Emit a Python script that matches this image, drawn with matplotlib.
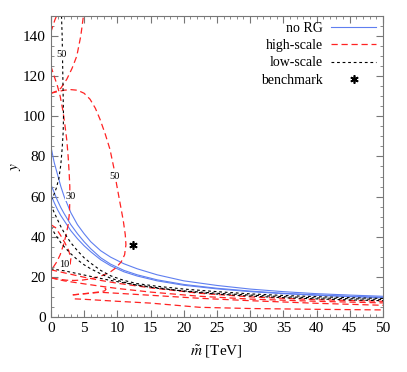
import numpy as np
import matplotlib
matplotlib.use('Agg')
import matplotlib.pyplot as plt
from matplotlib.ticker import MultipleLocator

plt.rcParams['font.family'] = ['Liberation Serif', 'DejaVu Serif']
plt.rcParams['mathtext.fontset'] = 'stix'

# no RG contours (blue, solid)
b1_x = [0, 0.5, 1, 1.5, 2, 3, 4, 5, 6, 7.5, 9, 11, 13, 16, 20, 25, 30, 35, 40, 45, 50]
b1_y = [85, 77, 71, 65, 60, 52, 46, 41.5, 37.5, 33, 29.8, 26.5, 24, 21, 18, 15.7, 13.9, 12.6, 11.6, 10.9, 10.3]
b2_x = b1_x
b2_y = [66, 62, 58, 54.5, 51.5, 46, 41.5, 37.5, 34, 29.5, 26.3, 23.2, 21, 18.5, 16.2, 14.3, 12.9, 11.8, 11, 10.3, 9.8]
b3_x = b1_x
b3_y = [61, 57, 53.5, 50.5, 48, 43, 39, 35.5, 32.5, 28.5, 25.5, 22.5, 20.4, 18, 15.8, 14, 12.6, 11.6, 10.8, 10.1, 9.6]

# low-scale contours (black, short dashes)
k1_x = [1.6, 1.7, 1.75, 1.8, 1.85, 1.9, 1.85, 1.7, 1.5, 1.2, 0.8, 0.4, 0]
k1_y = [150, 140, 130, 120, 110, 100, 92, 84, 76, 69, 64, 60.5, 58]
k2_x = b1_x
k2_y = [56, 52, 48.5, 45, 42, 37, 33, 29.5, 26.8, 23.2, 20.5, 18.2, 16.6, 15.3, 13.9, 12.6, 11.5, 10.7, 10.1, 9.6, 9.2]
k3_x = b1_x
k3_y = [45, 42, 39.5, 37, 35, 31.5, 28.5, 26, 24, 21.5, 19.3, 17.3, 15.8, 14.3, 13, 11.8, 10.9, 10.1, 9.5, 9.1, 8.7]
k4_x = [0, 1, 2, 3, 4, 5, 6, 7.5, 9, 11, 13, 16, 20, 25, 30, 35, 40, 45, 50]
k4_y = [24, 23.5, 23, 22.3, 21.6, 20.9, 20.2, 19.2, 18.2, 17, 15.9, 14.6, 12.8, 11.4, 10.4, 9.6, 9.0, 8.5, 8.1]

# high-scale contours (red, long dashes)
r1_x = [0, 1, 2, 3, 4, 5, 5.9, 6.7, 7.4, 8.2, 8.9, 9.5, 9.9, 10.4, 10.9, 11.2, 11.3, 11.1, 10.6,
        9.8, 8.9, 7.5, 6, 4.8, 3.5, 2.4, 1.2, 0]
r1_y = [111.5, 112.3, 113, 113.3, 113, 111.5, 108.5, 104, 98.5, 91, 83.5, 74, 66, 57, 48, 41, 36, 31, 27.5,
        24.5, 22.3, 20.3, 19, 18.4, 18.2, 18.3, 18.8, 19.5]
r2_x = [0, 0.3, 0.6, 0.85]
r2_y = [142, 145, 148, 150]
r3_x = [0, 0.8, 1.5, 2.4, 3.2, 3.9, 4.2, 4.5, 4.7, 4.9]
r3_y = [111.5, 112.5, 114, 118.5, 124, 130, 135, 140, 145, 150]
r4_x = [0, 0.5, 1, 1.4, 1.8, 2.1, 2.4, 2.6, 2.75, 2.85, 2.85, 2.8, 2.6, 2.3, 1.9, 1.4, 0.9, 0.4, 0]
r4_y = [125, 120, 115, 110, 103, 96, 88, 80, 72, 65, 58, 52, 46, 41, 36, 31, 27.5, 25, 24]
r5_x = [0, 0.7, 1.4, 2.1, 2.7, 3.0, 2.9, 2.6]
r5_y = [46, 44.5, 41, 37, 33, 29, 26, 23.5]
r6_x = [0, 2, 5, 7.5, 10, 15, 22.4, 30, 40, 50]
r6_y = [23.5, 22, 19.8, 18.2, 16.8, 14.5, 11.8, 10, 8.6, 7.8]
r7_x = [0, 2, 5, 7.5, 10, 15, 22.4, 30, 40, 50]
r7_y = [19.5, 18, 16.5, 15.3, 14.2, 12.4, 10.3, 8.9, 7.8, 7.0]
r8_x = [3.3, 5, 7.4, 8.1, 8.3, 8.1]
r8_y = [11, 11.6, 12.5, 13, 13.8, 14.6]
r9_x = [3.3, 5, 7.4, 10, 15, 22.4, 30, 40, 50]
r9_y = [11, 11.5, 12.3, 11.8, 10.8, 9.3, 8.1, 6.8, 5.8]
r10_x = [3.6, 5, 7.5, 10, 15, 22.4, 30, 40, 50]
r10_y = [9, 8.8, 8.3, 7.8, 6.9, 4.8, 4.2, 3.8, 3.5]

bench_x = [12.35]
bench_y = [36]

blue = '#5f7ff0'
red = '#ff2222'
red_dash = (0, (5, 3))
blk_dash = (0, (2.5, 2.5))

fig = plt.figure(figsize=(4.07, 3.72), dpi=100)
ax = fig.add_axes([0.125, 0.148, 0.816, 0.809])

for xs, ys in [(b1_x, b1_y), (b2_x, b2_y), (b3_x, b3_y)]:
    ax.plot(xs, ys, color=blue, lw=0.8)
for xs, ys in [(r1_x, r1_y), (r2_x, r2_y), (r3_x, r3_y), (r4_x, r4_y), (r5_x, r5_y),
               (r6_x, r6_y), (r7_x, r7_y), (r8_x, r8_y), (r9_x, r9_y), (r10_x, r10_y)]:
    ax.plot(xs, ys, color=red, lw=0.9, linestyle=red_dash)
for xs, ys in [(k1_x, k1_y), (k2_x, k2_y), (k3_x, k3_y), (k4_x, k4_y)]:
    ax.plot(xs, ys, color='black', lw=0.8, linestyle=blk_dash)

# contour labels
lbl = dict(fontsize=7.5, ha='center', va='center',
           bbox=dict(facecolor='white', edgecolor='none', pad=0.3))
ax.text(1.6, 131, '50', **lbl)
ax.text(9.6, 70, '50', **lbl)
ax.text(3.0, 60, '30', **lbl)
ax.text(2.0, 26, '10', **lbl)

# legend proxies
h1, = ax.plot([], [], color=blue, lw=0.8, label='no RG')
h2, = ax.plot([], [], color=red, lw=0.9, linestyle=red_dash, label='high-scale')
h3, = ax.plot([], [], color='black', lw=0.8, linestyle=blk_dash, label='low-scale')
h4, = ax.plot(bench_x, bench_y, linestyle='none', marker=(6, 2, 0), markersize=6,
              markeredgewidth=1.2, color='black', label='benchmark')

ax.legend(handles=[h1, h2, h3, h4], loc='upper right', frameon=False, markerfirst=False,
          fontsize=10, handlelength=3.2, labelspacing=0.32, handletextpad=0.6,
          borderaxespad=0.0, bbox_to_anchor=(0.995, 1.0))

ax.set_xlim(0, 50)
ax.set_ylim(0, 150)
ax.xaxis.set_major_locator(MultipleLocator(5))
ax.xaxis.set_minor_locator(MultipleLocator(1))
ax.yaxis.set_major_locator(MultipleLocator(20))
ax.yaxis.set_minor_locator(MultipleLocator(5))
ax.tick_params(which='both', direction='in', top=True, right=True, labelsize=11, color='#777777')
ax.tick_params(which='major', length=5)
ax.tick_params(which='minor', length=2.5)
for s in ax.spines.values():
    s.set_color('#777777')
ax.set_xlabel(r'$\tilde{m}$ [TeV]', fontsize=11, labelpad=6)
ax.set_ylabel(r'$y$', fontsize=11)
ax.yaxis.set_label_coords(-0.085, 0.5)

fig.savefig('out.png', dpi=100)
